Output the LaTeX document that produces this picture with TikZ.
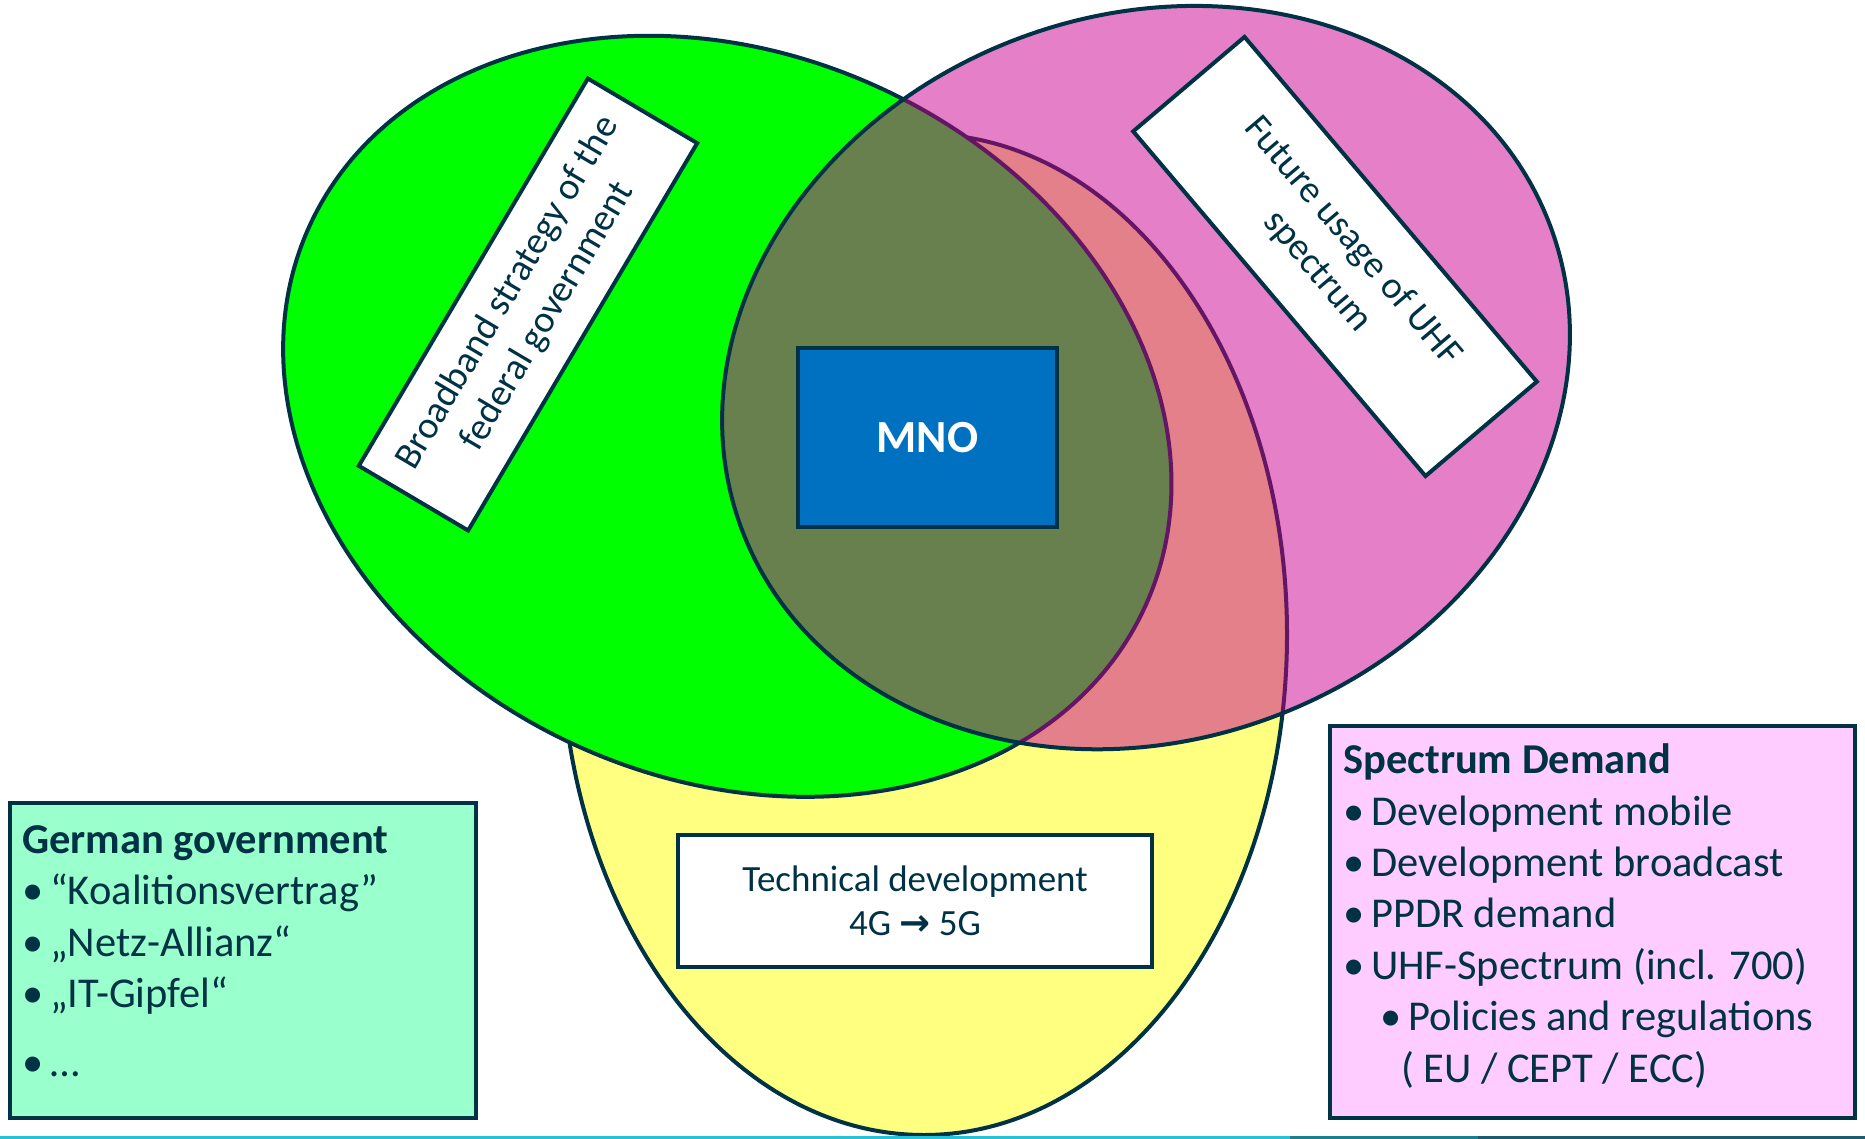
\documentclass[tikz,border=0pt]{standalone}
\usepackage{fontspec}
\setmainfont{Carlito}
\newfontfamily\arrowfont{DejaVu Sans}
\usepackage{xcolor}
\usepackage{tikz}
\usetikzlibrary{positioning,calc}

\definecolor{ink}{RGB}{0,50,70}
\definecolor{setgreen}{RGB}{0,255,0}
\definecolor{setpink}{RGB}{228,127,200}
\definecolor{setyellow}{RGB}{255,255,128}
\definecolor{olive}{RGB}{103,128,77}
\definecolor{salmon}{RGB}{228,128,138}
\definecolor{plum}{RGB}{100,22,100}
\definecolor{mnoblue}{RGB}{0,112,192}
\definecolor{mint}{RGB}{153,255,204}
\definecolor{lilac}{RGB}{255,204,255}
\definecolor{rulecyan}{RGB}{38,195,214}
\definecolor{ruleteal}{RGB}{27,127,142}
\definecolor{ruledark}{RGB}{28,92,108}

\newcommand{\greenset}{(727.3,416.3) ellipse [x radius=459.1, y radius=362.2, rotate=-24.4]}
\newcommand{\pinkset}{(1146,377.6) ellipse [x radius=431.8, y radius=362.3, rotate=20.6]}
\newcommand{\yellowset}{(924,634.5) ellipse [x radius=363, y radius=500.5]}
\newcommand{\itm}{\makebox[28pt][l]{•}}

\begin{document}
\begin{tikzpicture}[x=1pt,y=-1pt,
    outline/.style={draw=ink,line width=4pt},
    labelbox/.style={outline,fill=white,text=ink,align=center,inner sep=0pt,
        font=\fontsize{38}{46}\selectfont},
    listbox/.style={outline,anchor=north west,inner sep=0pt},
    listtext/.style={anchor=base west,align=left,inner sep=0pt,text=ink,
        font=\fontsize{42.5}{51.4}\selectfont}]
    \useasboundingbox (0,0) rectangle (1865,1139);

    % the three sets
    \fill[setyellow] \yellowset;
    \draw[outline] \yellowset;
    \fill[setgreen] \greenset;
    \draw[outline] \greenset;
    \fill[setpink] \pinkset;
    \begin{scope}
        \clip \pinkset;
        \fill[salmon] \yellowset;
        \draw[plum,line width=4pt] \yellowset;
    \end{scope}
    \begin{scope}
        \clip \greenset;
        \fill[olive] \pinkset;
    \end{scope}
    \begin{scope}
        \clip \pinkset;
        \draw[plum,line width=4pt] \greenset;
    \end{scope}
    \draw[outline] \pinkset;

    % labels in the sets
    \node[labelbox,rotate=59.4,minimum width=450,minimum height=127] (broadband) at (528,304.5)
        {Broadband strategy of the\\federal government};
    \node[labelbox,rotate=-49.7,minimum width=452,minimum height=146] (uhf) at (1335,256.5)
        {Future usage of UHF\\spectrum};
    \node[outline,fill=mnoblue,text=white,minimum width=259,minimum height=179,
        font=\fontsize{46}{55}\selectfont\bfseries] (mno) at (927.5,437.7) {MNO};
    \node[labelbox,minimum width=474,minimum height=132,
        font=\fontsize{37}{44}\selectfont] (tech) at (915,901)
        {Technical development\\4G {\arrowfont\bfseries →} 5G};

    % side boxes (text anchored on the baseline of its last line)
    \node[listbox,fill=mint,minimum width=466,minimum height=315] (gov) at (8,801) {};
    \node[listtext] (govlist) at (22,1076)
        {\textbf{German government}\\
         \itm “Koalitionsvertrag”\\
         \itm „Netz-Allianz“\\
         \itm „IT-Gipfel“\\[17pt]
         \itm …};
    \node[listbox,fill=lilac,minimum width=525,minimum height=392] (demand) at (1328,724) {};
    \node[listtext] (demandlist) at (1343,1082)
        {\textbf{Spectrum Demand}\\
         \itm Development mobile\\
         \itm Development broadcast\\
         \itm PPDR demand\\
         \itm UHF-Spectrum (incl. 700)\\
         \hspace*{37pt}\itm Policies and regulations\\
         \hspace*{58pt}( EU / CEPT / ECC)};

    % bottom rule
    \draw[rulecyan,line width=3pt] (0,1137.5) -- (1290,1137.5);
    \draw[ruleteal,line width=3pt] (1290,1137.5) -- (1478,1137.5);
    \draw[ruledark,line width=3pt] (1478,1137.5) -- (1865,1137.5);
\end{tikzpicture}
\end{document}
